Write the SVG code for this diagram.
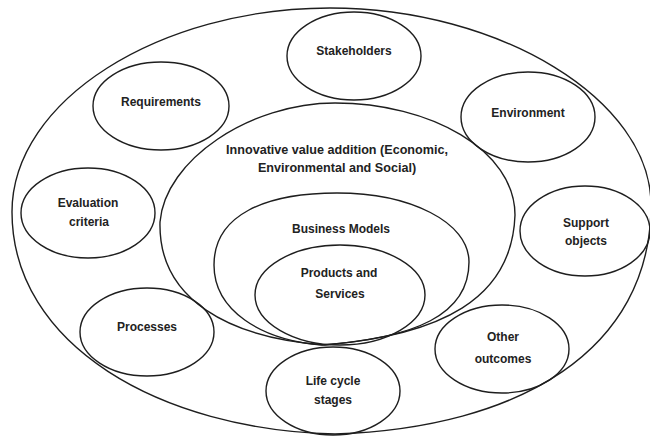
<svg xmlns="http://www.w3.org/2000/svg" width="650" height="436" viewBox="0 0 650 436">
<style>
.s{fill:none;stroke:#1e1e1e;stroke-width:1.4}
.t{font-family:"Liberation Sans",Arial,sans-serif;font-weight:bold;font-size:12px;fill:#222;text-anchor:middle}
.b{font-size:12.6px}
</style>
<rect width="650" height="436" fill="#fff"/>
<g id="outer">
<path class="s" d="M335,434 C160,430 12,345 12,212 C12,100 160,8 330,8 C500,8 651,100 651,205 C651,350 520,428 335,434 Z"/>
</g>
<g id="innovative">
<path class="s" d="M325,345 C230,338 158,300 160,222 C165,160 250,103 335,103 C430,103 515,150 515,215 C512,300 440,335 325,345 Z"/>
<text class="t b" x="337" y="154">Innovative value addition (Economic,</text>
<text class="t b" x="337" y="172">Environmental and Social)</text>
</g>
<g id="business">
<path class="s" d="M322,345 C260,340 214,310 214,265 C214,215 265,193 337,193 C410,193 469,222 469,262 C469,315 415,338 322,345 Z"/>
<text class="t" x="341" y="233">Business Models</text>
</g>
<g id="products">
<ellipse class="s" cx="340" cy="295" rx="85" ry="50"/>
<text class="t" x="339" y="277">Products and</text>
<text class="t" x="340" y="298">Services</text>
</g>
<g id="stakeholders">
<ellipse class="s" cx="354" cy="56" rx="67" ry="44"/>
<text class="t" x="354" y="55">Stakeholders</text>
</g>
<g id="requirements">
<ellipse class="s" cx="161" cy="106" rx="68" ry="44"/>
<text class="t" x="161" y="106">Requirements</text>
</g>
<g id="environment">
<ellipse class="s" cx="528" cy="117" rx="67" ry="45"/>
<text class="t" x="528" y="117">Environment</text>
</g>
<g id="evaluation">
<ellipse class="s" cx="88" cy="213" rx="67" ry="45"/>
<text class="t" x="88" y="207">Evaluation</text>
<text class="t" x="89" y="226">criteria</text>
</g>
<g id="support">
<ellipse class="s" cx="585" cy="231" rx="65" ry="45"/>
<text class="t" x="586" y="227">Support</text>
<text class="t" x="586" y="245">objects</text>
</g>
<g id="processes">
<ellipse class="s" cx="147" cy="332" rx="67" ry="44"/>
<text class="t" x="147" y="331">Processes</text>
</g>
<g id="other">
<ellipse class="s" cx="502" cy="349" rx="67" ry="44"/>
<text class="t" x="503" y="341">Other</text>
<text class="t" x="503" y="363">outcomes</text>
</g>
<g id="lifecycle">
<ellipse class="s" cx="333" cy="391" rx="67" ry="44"/>
<text class="t" x="333" y="385">Life cycle</text>
<text class="t" x="333" y="404">stages</text>
</g>
</svg>
